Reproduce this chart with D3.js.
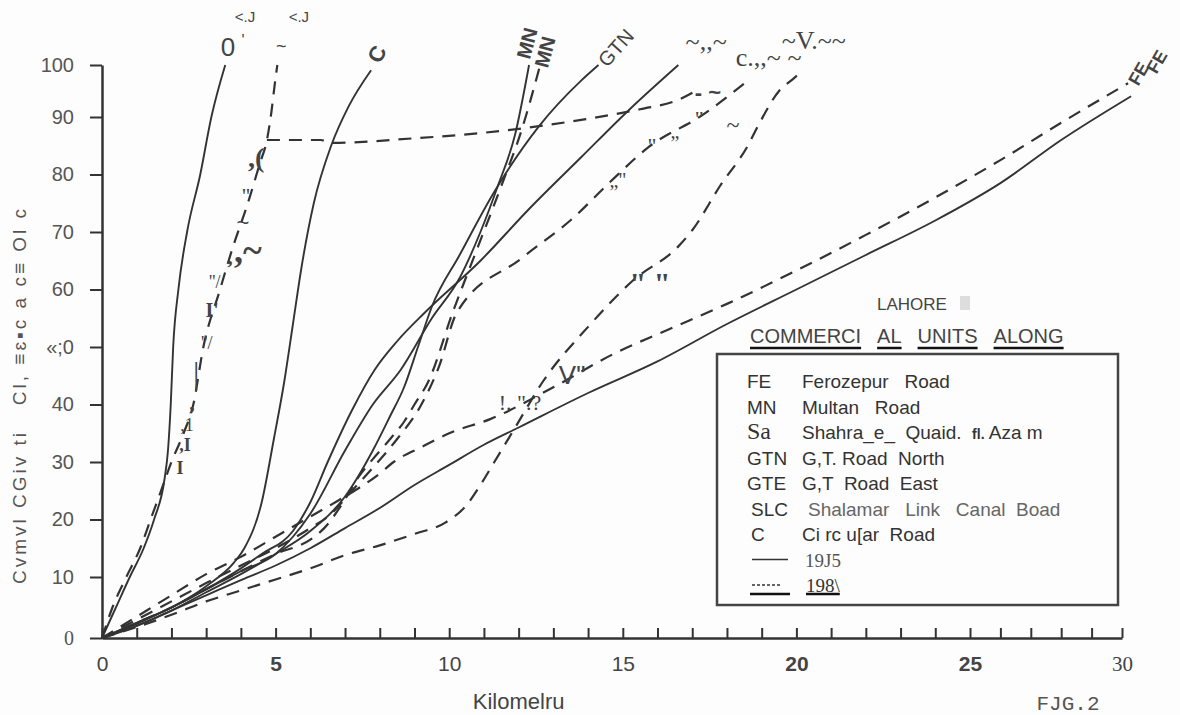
<!DOCTYPE html>
<html>
<head>
<meta charset="utf-8">
<script src="https://cdn.jsdelivr.net/npm/d3@7"></script>
<style>
body { margin: 0; background: #fdfdfd; }
text { font-family: "Liberation Sans", Arial, sans-serif; }
</style>
</head>
<body>
<div id="chart"></div>
<script>
// tick labels (as they read on the scan)
var xTickLabels = ["0", "5", "10", "15", "20", "25", "30"];
var yTickLabels = ["0", "10", "20", "30", "40", "\u00ab;0", "60", "70", "80", "90", "100"];

// cumulative % of commercial units against km, 1975 (solid)
var sq1975 = [[0,0],[0.4,5],[0.8,10],[1.2,15],[1.5,20],[1.8,27],[1.9,32],[1.98,40],[2.05,50],[2.2,60],[2.45,70],[2.83,80],[3.15,90],[3.55,100]];
var c1975 = [[0,0],[1,2.5],[2,5],[3,8.5],[3.8,12.5],[4.1,15],[4.6,23],[4.95,34],[5.25,44],[5.5,54],[5.75,64],[6.1,75],[6.6,85],[7.1,92],[7.75,99]];
var mn1975 = [[0,0],[1,2.3],[2,5],[3,8],[4,11],[5,14],[5.5,17],[6,21],[7,32],[7.8,40],[8.6,46],[9.5,55],[10.3,62],[10.9,70],[11.4,78],[11.9,87],[12.3,100]];
var gtn1975 = [[0,0],[1,2],[2,4.5],[3,7.5],[4,10.5],[5,14],[6,18],[7,24],[7.8,32],[8.3,38],[8.7,43],[9.1,50],[9.5,57],[10.3,66],[11.3,77],[12.6,88.5],[13.8,97],[14.3,100]];
var gte1975 = [[0,0],[1,2.5],[2,5],[3,8],[4,11.5],[4.6,14],[5.5,18],[6,23],[6.5,30],[7.2,39],[7.85,46],[8.5,51],[9.3,56],[10.9,65],[12.3,74],[13.8,83],[15.2,91.5],[16.6,100]];
var fe1975 = [[0,0],[1,2],[2,4.5],[3,7],[4,9.5],[5,12],[6,15],[7,18.5],[8,22],[9,26],[10,29.5],[11,33],[12,36],[14,42],[16,47.5],[18,54],[20,60],[22,66],[24,72],[26,78.5],[28,86],[30.3,94]];

// 1981 (dashed)
var sq1981 = [[0,0],[0.3,5],[0.7,10],[1.1,15],[1.4,20],[1.7,25],[2,30],[2.35,35],[2.63,40],[2.92,50],[3.4,60],[3.75,67],[4.2,75],[4.55,82],[4.75,86],[4.88,91],[4.97,96],[5.05,100]];
var c1981 = [[4.75,86],[6.3,86],[6.6,85.5],[9,86.3],[10.9,87.2],[13.8,89.5],[15.5,91.5],[16.6,93.3],[17.1,95]];
var mn1981 = [[0,0],[1,2.5],[2,5],[3,8],[4,11],[5,14],[6,16.5],[6.4,18.5],[7,23.5],[7.4,27.5],[7.8,30.5],[8.3,34],[8.7,37],[9,40],[9.4,44],[10.1,56],[10.8,67],[11.5,78],[12.1,88],[12.6,99.5]];
var gte1981 = [[0,0],[1,3],[2,6],[3,9],[4,12],[5,15],[6,18.5],[6.6,21],[7.2,25],[7.8,29],[8.5,34],[9.2,40],[9.7,46.5],[10.22,56],[12.1,65.5],[13.6,72.6],[14.6,78.5],[15.75,84.8],[17.3,90.4],[18.6,97]];
var fe1981 = [[0,0],[1,3.5],[2,7],[3,10.5],[4,13.5],[5,17],[6,20.5],[7,24],[8,28],[8.4,30],[9.2,32.6],[10,35],[11.2,37.5],[13,43],[14.8,49],[16.3,53],[18,57.5],[19.9,63],[22,69.5],[24,76],[26,82.5],[28,89],[30.2,96.5]];
var slc1981 = [[0,0],[1,1.8],[2,3.8],[3,6],[4,7.8],[5,9.6],[6,11.5],[7,13.8],[8,15.5],[9,17.5],[9.9,19.5],[10.5,22.5],[10.9,26],[11.3,30],[11.9,36],[12.7,44],[14,53.5],[15.3,61.6],[16.6,67.5],[17,70.3],[17.8,78],[18.6,85],[18.9,88.5],[19.5,95],[19.9,97.3],[20.2,99]];

var series = [
  {road: "SQ", year: 1975, pts: sq1975},
  {road: "C", year: 1975, pts: c1975},
  {road: "MN", year: 1975, pts: mn1975},
  {road: "GTN", year: 1975, pts: gtn1975},
  {road: "GTE", year: 1975, pts: gte1975},
  {road: "FE", year: 1975, pts: fe1975},
  {road: "SQ", year: 1981, pts: sq1981},
  {road: "C", year: 1981, pts: c1981},
  {road: "MN", year: 1981, pts: mn1981},
  {road: "GTE", year: 1981, pts: gte1981},
  {road: "FE", year: 1981, pts: fe1981},
  {road: "SLC", year: 1981, pts: slc1981}
];

// legend
var legendCodes = ["FE", "MN", "Sa", "GTN", "GTE", "SLC", "C"];
var legendNames = ["Ferozepur   Road", "Multan   Road", "Shahra_e_  Quaid.  ", "G,T. Road  North", "G,T  Road  East", "Shalamar   Link   Canal  Boad", "Ci rc u[ar  Road"];
var yearLabels = ["19J5", "198\\"];

var svg = d3.select("#chart").append("svg")
  .attr("width", 1180).attr("height", 715)
  .style("background", "#fdfdfd");

// hand drawn axes are a bit uneven, so polylinear scales
var x = d3.scaleLinear().domain([0, 25, 30]).range([102, 970, 1122]);
var y = d3.scaleLinear().domain([0, 10, 90, 100]).range([638, 577, 117, 65]);

// x axis, ticks every km pointing up
var gx = svg.append("g").attr("transform", "translate(0," + y(0) + ")")
  .call(d3.axisBottom(x).tickValues(d3.range(0, 31)).tickSize(-10).tickSizeOuter(0).tickPadding(18)
    .tickFormat(function(d) { return d % 5 === 0 ? xTickLabels[d / 5] : ""; }));
gx.select(".domain").attr("stroke", "#333").attr("stroke-width", 2.5);
gx.selectAll(".tick line").attr("stroke", "#333").attr("stroke-width", 2);
gx.selectAll(".tick text")
  .style("font-size", "21px")
  .attr("fill", "#444")
  .style("font-weight", function(d) { return (d === 5 || d === 20 || d === 25) ? "bold" : "normal"; })
  .style("font-family", function(d) { return d === 30 ? "'Liberation Serif', serif" : null; });

// y axis
var gy = svg.append("g").attr("transform", "translate(" + x(0) + ",0)")
  .call(d3.axisLeft(y).tickValues(d3.range(0, 101, 10)).tickSize(12).tickSizeOuter(0).tickPadding(16)
    .tickFormat(function(d, i) { return yTickLabels[i]; }));
gy.select(".domain").attr("stroke", "#333").attr("stroke-width", 2.5);
gy.selectAll(".tick line").attr("stroke", "#333").attr("stroke-width", 2);
gy.selectAll(".tick text")
  .style("font-size", "20px")
  .attr("fill", "#555")
  .style("font-family", function(d) { return d === 0 ? "'Liberation Serif', serif" : null; });

// curves
var line = d3.line()
  .x(function(d) { return x(d[0]); })
  .y(function(d) { return y(d[1]); })
  .curve(d3.curveMonotoneX);

svg.append("g").selectAll("path")
  .data(series)
  .join("path")
  .attr("d", function(s) { return line(s.pts); })
  .attr("fill", "none")
  .attr("stroke", "#333")
  .attr("stroke-width", function(s) { return s.year === 1981 ? 2.2 : 1.9; })
  .attr("stroke-dasharray", function(s) { return s.year === 1981 ? "13,9" : null; });

// labels at the line ends plus the scanner's stray characters
var notes = [
  {t: "<.J", km: 4.12, p: 109.4, size: 15},
  {t: "<.J", km: 5.67, p: 109.4, size: 15},
  {t: "0", km: 3.63, p: 103.5, size: 26},
  {t: "'", km: 4.06, p: 104.8, size: 16},
  {t: "~", km: 5.16, p: 103.7, size: 18},
  {t: "C", km: 7.92, p: 102.1, size: 22, rot: -65, bold: true},
  {t: "MN", km: 12.24, p: 104.2, size: 20, rot: -75, bold: true},
  {t: "MN", km: 12.76, p: 102.5, size: 20, rot: -75, bold: true},
  {t: "GTN", km: 14.8, p: 103.3, size: 20, rot: -48},
  {t: "~,,~", km: 17.4, p: 104.6, size: 26, serif: true},
  {t: "c.,,~ ~", km: 19.2, p: 101.5, size: 26, serif: true},
  {t: "~V.~~", km: 20.5, p: 104.8, size: 26, serif: true},
  {t: "FE", km: 31.15, p: 100.6, size: 18, rot: -60, bold: true},
  {t: "FE", km: 30.55, p: 98.3, size: 18, rot: -60, bold: true},
  {t: ",(", km: 4.44, p: 82.9, size: 28, serif: true, bold: true},
  {t: "''", km: 4.15, p: 76.4, size: 22, serif: true},
  {t: "~", km: 4.06, p: 71.7, size: 22},
  {t: ",~", km: 4.2, p: 66.9, size: 36, serif: true, bold: true},
  {t: ",", km: 3.69, p: 65.7, size: 22, serif: true, bold: true},
  {t: "''/", km: 3.25, p: 61.3, size: 18, serif: true},
  {t: "I'", km: 3.17, p: 56.4, size: 20, serif: true, bold: true},
  {t: "''/", km: 3.02, p: 50.7, size: 18, serif: true},
  {t: "|", km: 2.71, p: 45.5, size: 32, serif: true},
  {t: ",", km: 2.59, p: 40.3, size: 22, serif: true, bold: true},
  {t: ",1", km: 2.45, p: 36.4, size: 18, serif: true},
  {t: ",I", km: 2.39, p: 33, size: 18, serif: true, bold: true},
  {t: "I", km: 2.25, p: 29, size: 18, serif: true, bold: true},
  {t: "- ~", km: 17.45, p: 94.8, size: 22, bold: true},
  {t: "~", km: 18.17, p: 88.6, size: 24, serif: true},
  {t: "\"", km: 17.2, p: 89.8, size: 22, serif: true},
  {t: "\u201e", km: 16.5, p: 87.5, size: 20, serif: true},
  {t: "\"", km: 15.84, p: 85.1, size: 22, serif: true},
  {t: "\u201e\"", km: 14.86, p: 79, size: 20, serif: true},
  {t: "\" \"", km: 15.78, p: 61.3, size: 30, serif: true, bold: true},
  {t: "V\"", km: 13.54, p: 45.1, size: 26},
  {t: "!. \".?", km: 12.04, p: 40.3, size: 22, serif: true}
];

svg.append("g").selectAll("text")
  .data(notes)
  .join("text")
  .attr("transform", function(d) { return "translate(" + x(d.km) + "," + y(d.p) + ") rotate(" + (d.rot || 0) + ")"; })
  .attr("text-anchor", "middle")
  .attr("dominant-baseline", "central")
  .style("white-space", "pre")
  .style("font-size", function(d) { return d.size + "px"; })
  .style("font-weight", function(d) { return d.bold ? "bold" : "normal"; })
  .style("font-family", function(d) { return d.serif ? "'Liberation Serif', serif" : null; })
  .attr("fill", "#444")
  .text(function(d) { return d.t; });

// axis titles
svg.append("text")
  .attr("x", x(12)).attr("y", 709)
  .attr("text-anchor", "middle")
  .style("font-size", "22px")
  .attr("fill", "#444")
  .text("Kilomelru");

svg.append("text")
  .attr("x", 1068).attr("y", 710)
  .attr("text-anchor", "middle")
  .style("font-family", "'Liberation Mono', monospace")
  .style("font-size", "21px")
  .attr("fill", "#555")
  .text("FJG.2");

svg.append("text")
  .attr("transform", "translate(26,395) rotate(-90)")
  .attr("text-anchor", "middle")
  .style("font-size", "19px")
  .style("letter-spacing", "3px")
  .style("white-space", "pre")
  .attr("fill", "#555")
  .text("Cvmvl CGiv ti   Cl, \u2261\u025b\u25aac a c\u2261 Ol c");

// title block
svg.append("text")
  .attr("x", 912).attr("y", 310)
  .attr("text-anchor", "middle")
  .style("font-size", "17px")
  .attr("fill", "#444")
  .text("LAHORE");
svg.append("rect").attr("x", 960).attr("y", 296).attr("width", 10).attr("height", 14).attr("fill", "#ddd");

var head = ["COMMERCI", "AL", "UNITS", "ALONG"];
var hx = 750;
head.forEach(function(w) {
  var t = svg.append("text")
    .attr("x", hx).attr("y", 343)
    .style("font-size", "20px")
    .attr("fill", "#444")
    .text(w);
  var wd = t.node().getComputedTextLength();
  svg.append("line")
    .attr("x1", hx).attr("x2", hx + wd)
    .attr("y1", 348).attr("y2", 348)
    .attr("stroke", "#111").attr("stroke-width", 2.5);
  hx += wd + 16;
});

// legend box
var lg = svg.append("g");
lg.append("rect")
  .attr("x", 717).attr("y", 354)
  .attr("width", 401).attr("height", 251)
  .attr("fill", "none")
  .attr("stroke", "#444").attr("stroke-width", 2.5);

legendCodes.forEach(function(c, i) {
  var by = 388 + i * 25.5;
  lg.append("text")
    .attr("x", i >= 5 ? 751 : 747).attr("y", by)
    .style("font-size", c === "Sa" ? "24px" : "19px")
    .style("font-family", c === "Sa" ? "'Liberation Serif', serif" : null)
    .attr("fill", "#333")
    .text(c);
  var t = lg.append("text")
    .attr("x", i === 5 ? 808 : 802).attr("y", by)
    .style("font-size", "19px")
    .style("white-space", "pre")
    .attr("fill", i === 5 ? "#666" : "#333")
    .text(legendNames[i]);
  if (c === "Sa") {
    t.append("tspan").style("font-size", "14px").style("font-weight", "bold").text("fl.");
    t.append("tspan").text(" Aza m");
  }
});

// year keys
var ky1 = 388 + 7 * 25.5, ky2 = 388 + 8 * 25.5;
lg.append("line").attr("x1", 752).attr("x2", 788).attr("y1", ky1 - 7).attr("y2", ky1 - 7)
  .attr("stroke", "#333").attr("stroke-width", 1.5);
lg.append("line").attr("x1", 752).attr("x2", 780).attr("y1", ky2 - 7).attr("y2", ky2 - 7)
  .attr("stroke", "#333").attr("stroke-width", 1.5).attr("stroke-dasharray", "3,2");
lg.append("line").attr("x1", 750).attr("x2", 790).attr("y1", ky2 + 2).attr("y2", ky2 + 2)
  .attr("stroke", "#111").attr("stroke-width", 2.5);
lg.append("text").attr("x", 805).attr("y", ky1)
  .style("font-family", "'Liberation Serif', serif").style("font-size", "19px")
  .attr("fill", "#555").text(yearLabels[0]);
var yt = lg.append("text").attr("x", 806).attr("y", ky2)
  .style("font-family", "'Liberation Serif', serif").style("font-size", "19px")
  .attr("fill", "#333").text(yearLabels[1]);
var yw = yt.node().getComputedTextLength();
lg.append("line").attr("x1", 806).attr("x2", 806 + yw).attr("y1", ky2 + 2).attr("y2", ky2 + 2)
  .attr("stroke", "#111").attr("stroke-width", 2.5);
</script>
</body>
</html>
